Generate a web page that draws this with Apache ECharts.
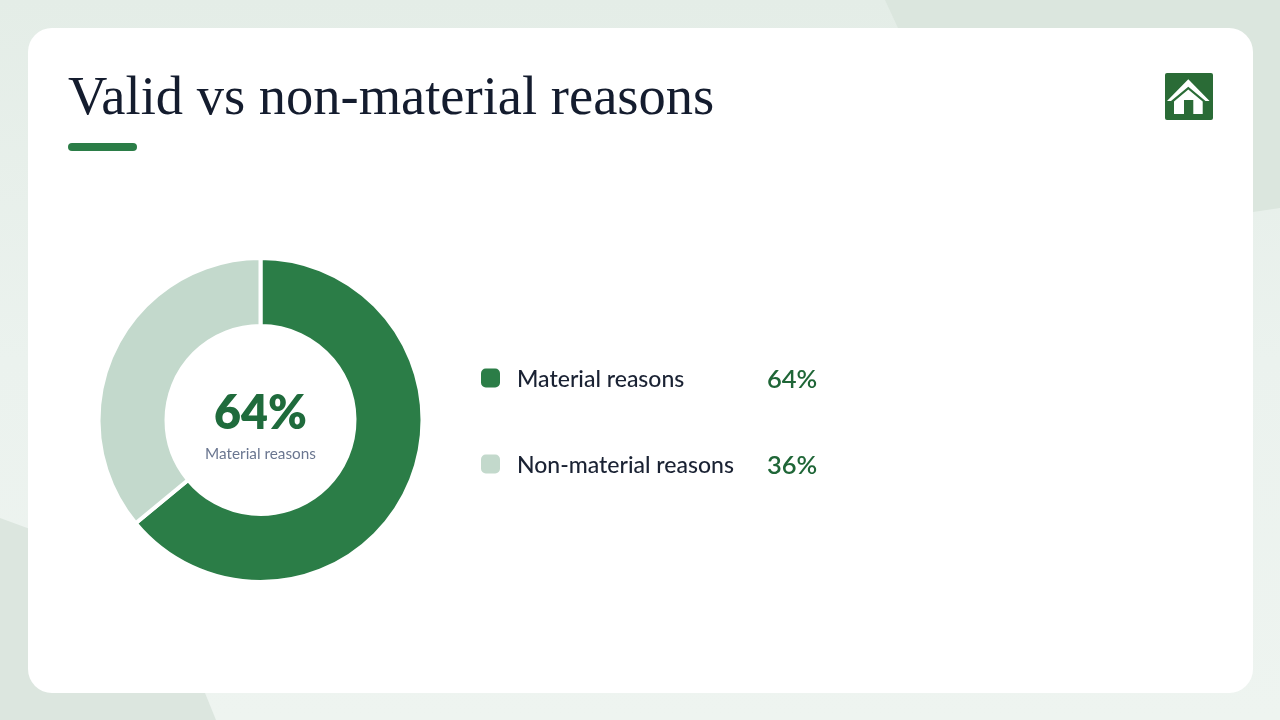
<!DOCTYPE html>
<html>
<head>
<meta charset="utf-8">
<title>Valid vs non-material reasons</title>
<style>
  html, body { margin: 0; padding: 0; background: #edf3ef; }
  #chart { width: 1280px; height: 720px; }
</style>
<script src="https://cdn.jsdelivr.net/npm/echarts@6/dist/echarts.min.js"></script>
</head>
<body>
<div id="chart"></div>
<script>
var chartTitle = 'Valid vs non-material reasons';
var categories = ['Material reasons', 'Non-material reasons'];
var shareValues = [64, 36];
var sliceColors = ['#2b7d47', '#c3d9cc'];

var chart = echarts.init(document.getElementById('chart'));

function pct(name) {
  return shareValues[categories.indexOf(name)] + '%';
}

var option = {
  animation: false,
  backgroundColor: {
    type: 'linear', x: 0, y: 0, x2: 0, y2: 1,
    colorStops: [
      { offset: 0, color: '#e4ede7' },
      { offset: 0.5, color: '#ebf2ee' },
      { offset: 1, color: '#eef4f0' }
    ]
  },
  title: {
    text: chartTitle,
    left: 68,
    top: 72,
    padding: 0,
    textStyle: {
      fontFamily: '"Liberation Serif"',
      fontSize: 54.5,
      fontWeight: 400,
      color: '#141c2e'
    }
  },
  legend: {
    orient: 'vertical',
    left: 481,
    top: 363.5,
    padding: 0,
    icon: 'roundRect',
    itemWidth: 19,
    itemHeight: 19,
    itemGap: 57,
    itemStyle: { borderWidth: 0 },
    selectedMode: false,
    data: categories,
    formatter: function (name) {
      return '{n|' + name + '}{v|' + pct(name) + '}';
    },
    textStyle: {
      rich: {
        n: { width: 250, padding: [3, 0, 0, 12], fontFamily: 'Lato', fontSize: 23, fontWeight: 500, color: '#1a2233', lineHeight: 25 },
        v: { padding: [3, 0, 0, 0], fontFamily: 'Lato', fontSize: 25.5, fontWeight: 600, color: '#1f6637', lineHeight: 25 }
      }
    }
  },
  graphic: [
    // page backdrop
    { type: 'polygon', z: -10, shape: { points: [[885, 0], [1280, 0], [1280, 208], [1253, 212], [898, 212], [898, 28]] }, style: { fill: '#dbe6de' } },
    { type: 'polygon', z: -10, shape: { points: [[0, 518], [60, 540], [205, 693], [216, 720], [0, 720]] }, style: { fill: '#dce6df' } },
    { type: 'rect', z: -5, shape: { x: 28, y: 28, width: 1225, height: 665, r: 24 }, style: { fill: '#ffffff' } },
    // accent under the title
    { type: 'rect', shape: { x: 68, y: 143, width: 69, height: 8, r: 4 }, style: { fill: '#2b7d47' } },
    // home button
    { type: 'rect', shape: { x: 1165, y: 73, width: 48, height: 47, r: 2 }, style: { fill: '#2a6b36' } },
    { type: 'polygon', shape: { points: [[1188.3, 79.3], [1209.6, 101], [1205.5, 101], [1188.3, 86.7], [1171, 101], [1167, 101]] }, style: { fill: '#ffffff' } },
    { type: 'polygon', shape: { points: [[1174, 114], [1174, 101.5], [1188.3, 89.5], [1202.7, 101.5], [1202.7, 114], [1193.3, 114], [1193.3, 100], [1184, 100], [1184, 114]] }, style: { fill: '#ffffff' } }
  ],
  series: [
    {
      type: 'pie',
      center: [260.5, 420],
      radius: [94, 162],
      startAngle: 90,
      clockwise: true,
      silent: true,
      itemStyle: { borderColor: '#ffffff', borderWidth: 4 },
      labelLine: { show: false },
      label: { show: false },
      data: categories.map(function (name, i) {
        var item = { name: name, value: shareValues[i], itemStyle: { color: sliceColors[i] } };
        if (i === 0) {
          item.label = {
            show: true,
            position: 'center',
            offset: [0, 6],
            formatter: '{big|' + shareValues[i] + '%}\n{small|' + name + '}',
            rich: {
              big: { fontFamily: 'Lato', fontSize: 46.5, fontWeight: 800, color: '#1f6b3c', lineHeight: 56, padding: [0, 0, 2, 0] },
              small: { fontFamily: 'Lato', fontSize: 15.3, color: '#6a7690', lineHeight: 22 }
            }
          };
        }
        return item;
      })
    }
  ]
};

chart.setOption(option);
</script>
</body>
</html>
